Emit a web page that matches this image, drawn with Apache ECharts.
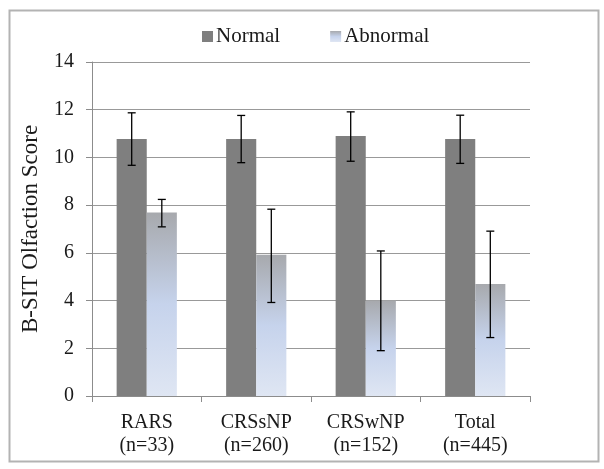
<!DOCTYPE html>
<html><head><meta charset="utf-8">
<script src="https://cdn.jsdelivr.net/npm/echarts@6/dist/echarts.min.js"></script>
<style>html,body{margin:0;padding:0;background:#fff}#c{width:604px;height:469px}</style>
</head><body><div id="c"></div>
<script>
const categories = ['RARS\n(n=33)', 'CRSsNP\n(n=260)', 'CRSwNP\n(n=152)', 'Total\n(n=445)'];
const normalMean = [10.77, 10.77, 10.9, 10.77];
const normalLow = [9.67, 9.78, 9.84, 9.75];
const normalHigh = [11.87, 11.76, 11.91, 11.77];
const abnormalMean = [7.69, 5.92, 4.0, 4.69];
const abnormalLow = [7.09, 3.92, 1.9, 2.45];
const abnormalHigh = [8.24, 7.83, 6.08, 6.91];
const yTicks = [0, 2, 4, 6, 8, 10, 12, 14];

const gapFrac = 0.45;
const font = '"Liberation Serif", "Times New Roman", serif';

function errSeries(low, high, side) {
  return {
    type: 'custom',
    silent: true,
    z: 10,
    data: low.map((l, i) => [i, l, high[i]]),
    renderItem: function (params, api) {
      const band = api.size([1, 0])[0];
      const bw = band * (1 - gapFrac) / 2;
      const off = side * bw / 2;
      const pLow = api.coord([api.value(0), api.value(1)]);
      const pHigh = api.coord([api.value(0), api.value(2)]);
      const x = pLow[0] + off;
      const cap = 4;
      const st = { stroke: '#000', lineWidth: 1.3 };
      return {
        type: 'group',
        children: [
          { type: 'line', shape: { x1: x, y1: pLow[1], x2: x, y2: pHigh[1] }, style: st },
          { type: 'line', shape: { x1: x - cap, y1: pLow[1], x2: x + cap, y2: pLow[1] }, style: st },
          { type: 'line', shape: { x1: x - cap, y1: pHigh[1], x2: x + cap, y2: pHigh[1] }, style: st }
        ]
      };
    }
  };
}

const chart = echarts.init(document.getElementById('c'));
chart.setOption({
  animation: false,
  backgroundColor: '#fff',
  graphic: [{
    type: 'rect', left: 7, top: 8, shape: { width: 589, height: 451 },
    style: { fill: 'none', stroke: '#b3b3b3', lineWidth: 2 }, silent: true
  }],
  legend: {
    top: 21, left: 197, itemWidth: 11, itemHeight: 11, itemGap: 50,
    icon: 'rect',
    data: ['Normal', 'Abnormal'],
    textStyle: { fontFamily: font, fontSize: 21, color: '#1a1a1a', padding: [0, 0, 0, -2] }
  },
  grid: { left: 92, right: 74, top: 62, bottom: 73 },
  xAxis: {
    type: 'category', data: categories,
    axisLine: { lineStyle: { color: '#8c8c8c', width: 1 } },
    axisTick: { show: true, length: 6, lineStyle: { color: '#8c8c8c' } },
    axisLabel: { fontFamily: font, fontSize: 20, color: '#1a1a1a', lineHeight: 23, margin: 15 }
  },
  yAxis: {
    type: 'value', min: 0, max: 14, interval: 2,
    name: 'B-SIT Olfaction Score', nameLocation: 'middle', nameGap: 50,
    nameTextStyle: { fontFamily: font, fontSize: 23, color: '#1a1a1a' },
    axisLine: { show: true, lineStyle: { color: '#8c8c8c' } },
    axisTick: { show: true, length: 6, lineStyle: { color: '#8c8c8c' } },
    splitLine: { lineStyle: { color: '#999', width: 1 } },
    axisLabel: {
      fontFamily: font, fontSize: 20, color: '#1a1a1a', margin: 18,
      formatter: v => yTicks.includes(v) ? String(v) : ''
    }
  },
  series: [
    {
      name: 'Normal', type: 'bar', data: normalMean, barGap: '0%', barCategoryGap: '45%',
      itemStyle: { color: '#7f7f7f' }
    },
    {
      name: 'Abnormal', type: 'bar', data: abnormalMean, barGap: '0%', barCategoryGap: '45%',
      itemStyle: {
        color: new echarts.graphic.LinearGradient(0, 0, 0, 1, [
          { offset: 0, color: '#a7a9ad' },
          { offset: 0.5, color: '#c6d3ec' },
          { offset: 1, color: '#dfe6f3' }
        ])
      }
    },
    errSeries(normalLow, normalHigh, -1),
    errSeries(abnormalLow, abnormalHigh, 1)
  ]
});
</script></body></html>
